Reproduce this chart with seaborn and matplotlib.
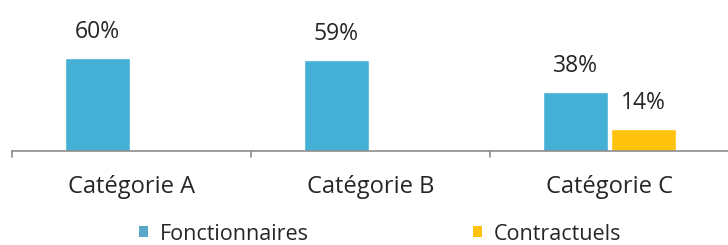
import numpy as np
import pandas as pd
import matplotlib
matplotlib.use("Agg")
import matplotlib.pyplot as plt
import seaborn as sns
from matplotlib.patches import Patch

categories = ["Catégorie A", "Catégorie B", "Catégorie C"]
series = ["Fonctionnaires", "Contractuels"]
fonctionnaires = [60, 59, 38]
contractuels = [np.nan, np.nan, 14]
colors = ["#45B0D6", "#FFC30D"]

df = pd.DataFrame({
    "cat": categories * 2,
    "serie": [series[0]] * 3 + [series[1]] * 3,
    "val": fonctionnaires + contractuels,
})

sns.set_style("white")
plt.rcParams["font.family"] = ["Open Sans", "DejaVu Sans"]
txt = "#262626"

fig = plt.figure(figsize=(7.28, 2.45), dpi=100)
ax = fig.add_axes([12 / 728, (245 - 151) / 245, 717 / 728, 151 / 245])

sns.barplot(data=df, x="cat", y="val", hue="serie", order=categories,
            hue_order=series, palette=colors, width=0.57, gap=0.04,
            saturation=1, legend=False, ax=ax, dodge=True)

for c in ax.containers:
    labels = ["" if np.isnan(v) else f"{v:.0f}%" for v in c.datavalues]
    ax.bar_label(c, labels=labels, padding=10, fontsize=16.5, color=txt)

ax.set_xlim(-0.5, 2.5)
ax.set_ylim(0, 97.4)
ax.set_xlabel("")
ax.set_ylabel("")
ax.set_yticks([])
for s in ["top", "right", "left"]:
    ax.spines[s].set_visible(False)
ax.spines["bottom"].set_color("#8c8c8c")
ax.spines["bottom"].set_linewidth(1.2)

ax.set_xticks([0, 1, 2])
ax.set_xticklabels(categories, fontsize=17, color=txt)
ax.tick_params(axis="x", length=0, pad=17)
for xb in [-0.5, 0.5, 1.5]:
    ax.plot([xb, xb], [0, -4], color="#8c8c8c", lw=1.2, clip_on=False)

handles = [Patch(facecolor="#5aa8c8", edgecolor="none"),
           Patch(facecolor=colors[1], edgecolor="none")]
fig.legend(handles, series, loc="center", bbox_to_anchor=(380 / 728, 1 - 234 / 245),
           ncol=2, frameon=False, fontsize=15.5, handlelength=0.42, handleheight=0.42,
           handletextpad=0.55, columnspacing=7.6, labelcolor=txt)

fig.savefig("out.png", dpi=100)
